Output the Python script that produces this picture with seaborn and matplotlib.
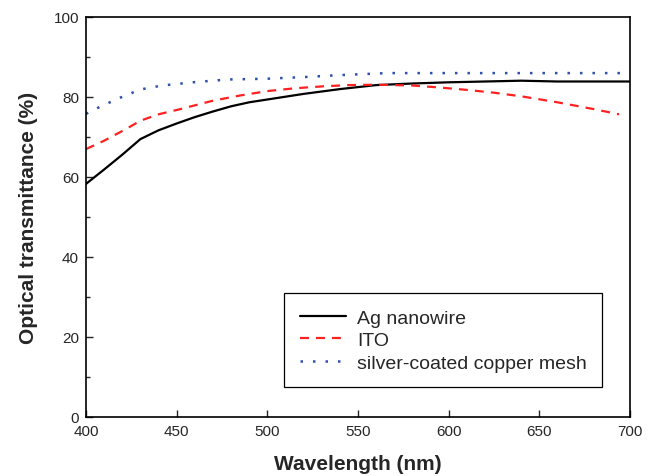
import numpy as np
import pandas as pd
import seaborn as sns
import matplotlib.pyplot as plt

# data
wl_ag = [400, 405, 410, 420, 430, 440, 450, 460, 470, 480, 490, 500, 520, 540, 560, 580, 600, 620, 640, 660, 680, 700]
t_ag = [58.2, 60.0, 61.8, 65.5, 69.4, 71.6, 73.3, 74.9, 76.3, 77.6, 78.6, 79.3, 80.7, 81.9, 82.9, 83.3, 83.6, 83.8, 84.0, 83.8, 83.8, 83.8]

wl_ito = [400, 410, 422, 430, 440, 452, 470, 485, 500, 515, 531, 545, 560, 580, 595, 610, 625, 640, 660, 680, 694]
t_ito = [66.9, 69.0, 71.9, 74.0, 75.6, 76.9, 79.0, 80.3, 81.4, 82.1, 82.6, 82.9, 83.0, 82.8, 82.3, 81.7, 81.0, 80.1, 78.6, 76.9, 75.6]

wl_mesh = [400, 406, 418, 430, 442, 459, 478, 500, 520, 540, 566, 600, 650, 700]
t_mesh = [75.7, 77.1, 79.6, 81.8, 82.8, 83.6, 84.3, 84.5, 84.9, 85.4, 85.9, 85.9, 85.9, 85.9]

labels = ['Ag nanowire', 'ITO', 'silver-coated copper mesh']

sns.set_style('ticks')
plt.rcParams['font.family'] = ['Liberation Sans', 'DejaVu Sans']

fig, ax = plt.subplots(figsize=(6.58, 4.77), dpi=100)
fig.subplots_adjust(left=0.1307, right=0.9574, top=0.9629, bottom=0.1243)

sns.lineplot(x=wl_ag, y=t_ag, ax=ax, color='black', lw=1.6, label=labels[0])
sns.lineplot(x=wl_ito, y=t_ito, ax=ax, color='#ff2020', lw=1.6, label=labels[1])
sns.lineplot(x=wl_mesh, y=t_mesh, ax=ax, color='#3050b0', lw=1.8, label=labels[2])
ax.lines[1].set_dashes((4, 3.2))
ax.lines[2].set_dashes((1, 4))

ax.set_xlim(400, 700)
ax.set_ylim(0, 100)
ax.set_xticks(range(400, 701, 50))
ax.set_yticks(range(0, 101, 20))
ax.set_yticks(range(10, 100, 20), minor=True)
ax.tick_params(direction='in', labelsize=11, length=5, width=1, pad=5)
ax.tick_params(which='minor', direction='in', length=3, width=1)
for s in ax.spines.values():
    s.set_visible(True)
    s.set_linewidth(1.2)
    s.set_color('black')

ax.set_xlabel('Wavelength (nm)', fontsize=15, fontweight='bold', labelpad=12)
ax.set_ylabel('Optical transmittance (%)', fontsize=15, fontweight='bold', labelpad=11)

leg = ax.legend(loc='lower right', bbox_to_anchor=(0.949, 0.074), borderaxespad=0,
                fontsize=14, handlelength=2.4, handletextpad=0.55, borderpad=0.8,
                labelspacing=0.25, fancybox=False, framealpha=1, edgecolor='black')
leg.get_frame().set_linewidth(0.9)
leg.get_lines()[1].set_dashes((4, 3.2))
leg.get_lines()[2].set_dashes((1, 4))

fig.savefig('out.png', dpi=100)
